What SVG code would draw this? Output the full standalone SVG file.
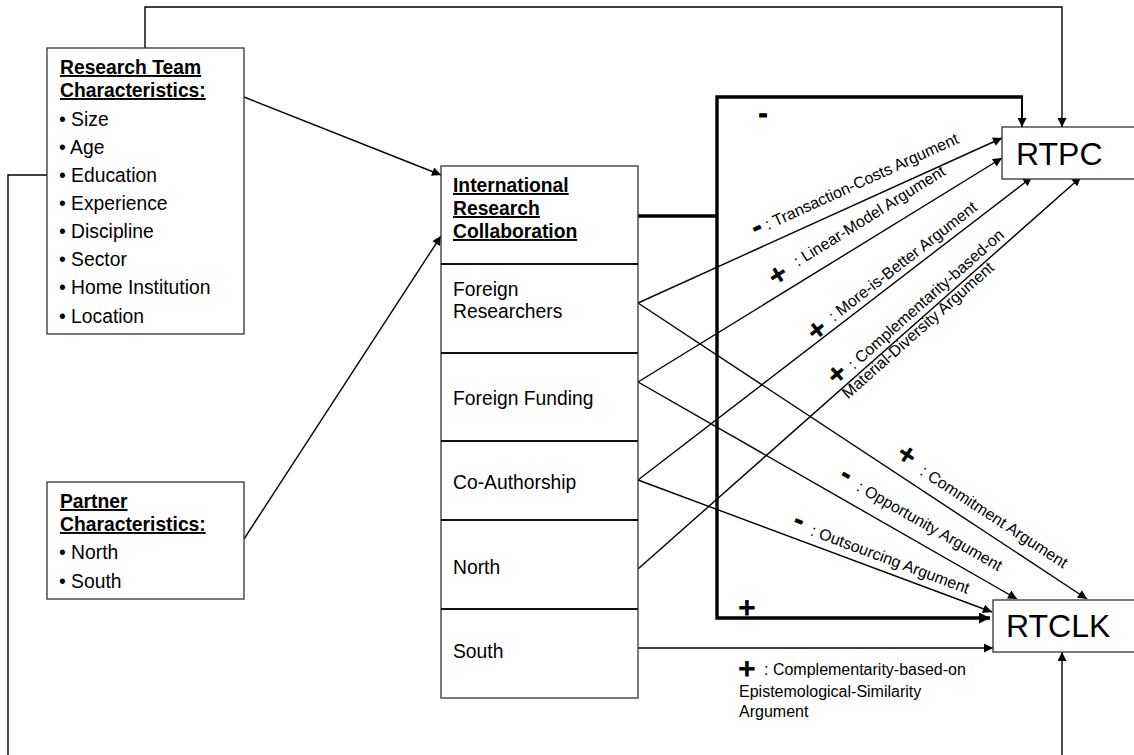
<svg xmlns="http://www.w3.org/2000/svg" width="1134" height="755" viewBox="0 0 1134 755">
<style>
.box{fill:#fff;stroke:#333;stroke-width:1.3}
.div{stroke:#111;stroke-width:2.2}
.t{font-family:"Liberation Sans",Arial,sans-serif;font-size:19.3px;fill:#000}
.h{font-weight:bold;text-decoration:underline}
.big{font-size:32px}
.lbl{font-family:"Liberation Sans",Arial,sans-serif;font-size:16px;fill:#000}
.sign{font-family:"DejaVu Sans",sans-serif;font-weight:bold;font-size:23px;fill:#000;text-anchor:middle;stroke:#000;stroke-width:0.8}
.c{stroke:#000;stroke-width:1.4;fill:none}
.k{stroke:#000;stroke-width:3.4;fill:none}
</style>
<defs>
<marker id="ah" viewBox="0 0 10 10" refX="10" refY="5" markerWidth="11" markerHeight="9" markerUnits="userSpaceOnUse" orient="auto"><path d="M0,0 L10,5 L0,10 z" fill="#000"/></marker>
<marker id="ahb" viewBox="0 0 10 10" refX="10" refY="5" markerWidth="13" markerHeight="11" markerUnits="userSpaceOnUse" orient="auto"><path d="M0,0 L10,5 L0,10 z" fill="#000"/></marker>
</defs>
<rect width="1134" height="755" fill="#fff"/>

<g id="connectors">
<path class="c" d="M145,48 V7 H1062 V127" marker-end="url(#ah)"/>
<path class="c" d="M47,175 H8 V755"/>
<path class="c" d="M1062,755 V652" marker-end="url(#ah)"/>
<line class="c" x1="244" y1="97" x2="441" y2="175" marker-end="url(#ah)"/>
<line class="c" x1="244" y1="539" x2="441" y2="236" marker-end="url(#ah)"/>
<path class="k" d="M638,216 H717"/>
<path class="k" d="M1023,97 H717 V618 H990" marker-end="url(#ahb)"/>
<path class="c" style="stroke-width:2" d="M1022,96 V127" marker-end="url(#ah)"/>
<line class="c" x1="638" y1="303" x2="1002" y2="138" marker-end="url(#ah)"/>
<line class="c" x1="638" y1="382" x2="1002" y2="158" marker-end="url(#ah)"/>
<line class="c" x1="638" y1="480" x2="1032" y2="177" marker-end="url(#ah)"/>
<line class="c" x1="638" y1="569" x2="1081" y2="177" marker-end="url(#ah)"/>
<line class="c" x1="638" y1="303" x2="1087" y2="599" marker-end="url(#ah)"/>
<line class="c" x1="638" y1="382" x2="1017" y2="599" marker-end="url(#ah)"/>
<line class="c" x1="638" y1="480" x2="992" y2="612" marker-end="url(#ah)"/>
<line class="c" x1="638" y1="648" x2="993" y2="648" marker-end="url(#ah)"/>
</g>

<g id="edge-labels">
<text class="sign" x="763" y="122">-</text>
<text class="sign" x="747" y="615">+</text>

<text class="sign" x="757" y="235" transform="rotate(-24.5 757 228)">-</text>
<text class="lbl" transform="translate(768,230) rotate(-24.5)">: Transaction-Costs Argument</text>

<text class="sign" x="778" y="282" transform="rotate(-32 778 275)">+</text>
<text class="lbl" transform="translate(798,267) rotate(-32)">: Linear-Model Argument</text>

<text class="sign" x="817" y="337" transform="rotate(-38 817 330)">+</text>
<text class="lbl" transform="translate(834,322) rotate(-38)">: More-is-Better Argument</text>

<text class="sign" x="837" y="381" transform="rotate(-41.5 837 374)">+</text>
<text class="lbl" transform="translate(854,370) rotate(-41.5)"><tspan x="0" y="0">: Complementarity-based-on</tspan><tspan x="-24" y="18">Material-Diversity Argument</tspan></text>

<text class="sign" x="907" y="462" transform="rotate(33.3 907 455)">+</text>
<text class="lbl" transform="translate(919,474) rotate(33.3)">: Commitment Argument</text>

<text class="sign" x="846" y="482" transform="rotate(29.7 846 475)">-</text>
<text class="lbl" transform="translate(855.5,490) rotate(29.7)">: Opportunity Argument</text>

<text class="sign" x="799" y="528" transform="rotate(20.5 799 521)">-</text>
<text class="lbl" transform="translate(809.5,535) rotate(20.5)">: Outsourcing Argument</text>

<text class="sign" x="747" y="676">+</text>
<text class="lbl" x="764" y="675">: Complementarity-based-on</text>
<text class="lbl" x="739" y="697">Epistemological-Similarity</text>
<text class="lbl" x="739" y="717">Argument</text>
</g>

<g id="research-team">
<rect class="box" x="47" y="48" width="197" height="286"/>
<text class="t h" x="60" y="74">Research Team</text>
<text class="t h" x="60" y="97">Characteristics:</text>
<text class="t" x="59" y="126">• Size</text>
<text class="t" x="59" y="154">• Age</text>
<text class="t" x="59" y="182">• Education</text>
<text class="t" x="59" y="210">• Experience</text>
<text class="t" x="59" y="238">• Discipline</text>
<text class="t" x="59" y="266">• Sector</text>
<text class="t" x="59" y="294">• Home Institution</text>
<text class="t" x="59" y="323">• Location</text>
</g>

<g id="partner">
<rect class="box" x="47" y="482" width="197" height="117"/>
<text class="t h" x="60" y="508">Partner</text>
<text class="t h" x="60" y="531">Characteristics:</text>
<text class="t" x="59" y="559">• North</text>
<text class="t" x="59" y="588">• South</text>
</g>

<g id="irc">
<rect class="box" x="441" y="166" width="197" height="532"/>
<line class="div" x1="441" y1="264" x2="638" y2="264"/>
<line class="div" x1="441" y1="353" x2="638" y2="353"/>
<line class="div" x1="441" y1="441" x2="638" y2="441"/>
<line class="div" x1="441" y1="520" x2="638" y2="520"/>
<line class="div" x1="441" y1="609" x2="638" y2="609"/>
<text class="t h" x="453" y="192">International</text>
<text class="t h" x="453" y="215">Research</text>
<text class="t h" x="453" y="238">Collaboration</text>
<g id="foreign-researchers"><text class="t" x="453" y="296">Foreign</text><text class="t" x="453" y="318">Researchers</text></g>
<g id="foreign-funding"><text class="t" x="453" y="405">Foreign Funding</text></g>
<g id="co-authorship"><text class="t" x="453" y="489">Co-Authorship</text></g>
<g id="north"><text class="t" x="453" y="574">North</text></g>
<g id="south"><text class="t" x="453" y="658">South</text></g>
</g>

<g id="rtpc">
<rect class="box" x="1002" y="127" width="140" height="52"/>
<text class="t big" x="1016" y="165">RTPC</text>
</g>

<g id="rtclk">
<rect class="box" x="993" y="600" width="150" height="52"/>
<text class="t big" x="1006" y="637">RTCLK</text>
</g>
</svg>
